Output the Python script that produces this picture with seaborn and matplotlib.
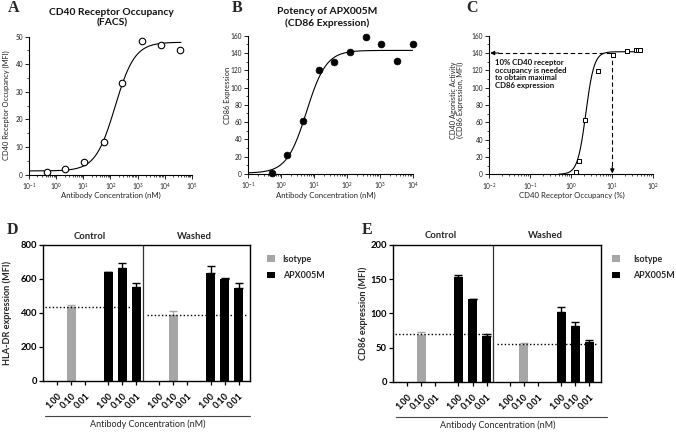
import numpy as np
import pandas as pd
import matplotlib
matplotlib.use("Agg")
import matplotlib.pyplot as plt
import matplotlib.transforms as mtransforms
from matplotlib.patches import Patch
from matplotlib.ticker import FixedLocator, MultipleLocator, LogFormatterMathtext, NullFormatter
import seaborn as sns

# ---------------- data ----------------
# Panel A: CD40 receptor occupancy (FACS)
a_conc_nM = [0.44, 2.1, 10.8, 57, 275, 1400, 7400, 37000]
a_occupancy_mfi = [0.9, 1.9, 4.4, 11.8, 33.3, 48.3, 47.0, 45.2]
a_fit = dict(bottom=1.3, top=48.0, log_ec50=2.17, hill=1.2)

# Panel B: potency of APX005M (CD86 expression)
b_conc_nM = [0.51, 1.52, 4.57, 13.7, 41.2, 123, 370, 1111, 3333, 10000]
b_cd86 = [1.5, 22.4, 61.3, 120, 130, 141.5, 158.8, 150, 130.7, 150]
b_fit = dict(bottom=1.0, top=143.0, log_ec50=0.77, hill=1.45)

# Panel C: CD40 agonistic activity vs receptor occupancy
c_occupancy_pct = [1.30, 1.51, 2.15, 4.39, 10.6, 23.2, 37.8, 42.3, 47.3]
c_cd86 = [2.7, 15.3, 63, 119, 138, 142.5, 143, 143, 143]
c_fit = dict(bottom=0.0, top=141.5, log_ec50=0.355, hill=4.3)
c_threshold_pct = 10
c_max_cd86 = 140
c_note = "10% CD40 receptor\noccupancy is needed\nto obtain maximal\nCD86 expression"

# Panels D/E: bar charts
conditions = ["Control", "Washed"]
treatments = ["Isotype", "APX005M"]
dose_labels = ["1.00", "0.10", "0.01"]
isotype_dose = "0.10"

hla_isotype_mean = [438, 388]
hla_isotype_err = [8, 26]
hla_apx_mean = [[641, 665, 555], [637, 602, 545]]
hla_apx_err = [[3, 27, 20], [39, 4, 33]]
hla_baseline = [437, 390]

cd86_isotype_mean = [68.3, 54]
cd86_isotype_err = [5, 3]
cd86_apx_mean = [[153, 121, 66.8], [102.4, 81.5, 57.6]]
cd86_apx_err = [[2.5, 0.6, 3], [6.5, 5.3, 3]]
cd86_baseline = [69.8, 55.6]

# ---------------- style ----------------
sns.set_theme(style="ticks")
plt.rcParams["font.family"] = ["Lato", "DejaVu Sans"]
plt.rcParams["mathtext.fontset"] = "custom"
plt.rcParams["mathtext.rm"] = "Lato"
plt.rcParams["mathtext.it"] = "Lato:italic"
plt.rcParams["mathtext.bf"] = "Lato:bold"

W, H = 676, 432
fig = plt.figure(figsize=(W / 100, H / 100), dpi=100)
fig.patch.set_facecolor("white")


def rect(l, t, r, b):
    return [l / W, 1 - b / H, (r - l) / W, (b - t) / H]


def four_pl(x, p):
    x = np.asarray(x, dtype=float)
    return p["bottom"] + (p["top"] - p["bottom"]) / (1 + 10 ** ((p["log_ec50"] - np.log10(x)) * p["hill"]))


TXT = "#222222"


def style_curve_axes(ax, decades, ylim, ymajor):
    lo, hi = decades
    ax.set_xscale("log")
    ax.set_xlim(10.0 ** lo, 10.0 ** hi)
    ax.set_ylim(*ylim)
    sns.despine(ax=ax)
    for s in ("left", "bottom"):
        ax.spines[s].set_linewidth(0.8)
        ax.spines[s].set_color("black")
    majors = [10.0 ** k for k in range(lo, hi + 1)]
    minors = [m * 10.0 ** k for k in range(lo, hi) for m in range(2, 10)]
    ax.xaxis.set_major_locator(FixedLocator(majors))
    ax.xaxis.set_minor_locator(FixedLocator(minors))
    ax.xaxis.set_major_formatter(LogFormatterMathtext())
    ax.xaxis.set_minor_formatter(NullFormatter())
    ax.yaxis.set_major_locator(MultipleLocator(ymajor))
    ax.yaxis.set_minor_locator(MultipleLocator(ymajor / 2))
    ax.tick_params(axis="both", which="major", direction="out", length=3, width=0.6,
                   labelsize=4.7, pad=1.5, colors="black", labelcolor=TXT)
    ax.tick_params(axis="both", which="minor", direction="out", length=1.6, width=0.5, colors="black")
    ax.set_facecolor("white")


# ---------------- Panel A ----------------
axA = fig.add_axes(rect(29.3, 36.7, 191.7, 174.5))
xa = np.logspace(-1, np.log10(40000), 300)
sns.lineplot(x=xa, y=four_pl(xa, a_fit), ax=axA, color="black", lw=0.8)
sns.scatterplot(x=a_conc_nM, y=a_occupancy_mfi, ax=axA, marker="o", s=22,
                color="white", edgecolor="black", linewidth=0.8, clip_on=False, zorder=3)
style_curve_axes(axA, (-1, 5), (0, 50), 10)
axA.set_xlabel("Antibody Concentration (nM)", fontsize=5.6, color=TXT)
axA.set_ylabel("CD40 Receptor Occupancy (MFI)", fontsize=5.4, color=TXT)
axA.xaxis.set_label_coords(0.503, -0.127)
axA.yaxis.set_label_coords(-0.12, 0.5)
fig.text(111.7 / W, 1 - 17.5 / H, "CD40 Receptor Occupancy\n(FACS)", ha="center", va="center",
         fontsize=7.4, fontweight="bold", linespacing=1.2, color="#111111")

# ---------------- Panel B ----------------
axB = fig.add_axes(rect(248.3, 35.7, 412.7, 174.0))
xb = np.logspace(-1, 4, 300)
sns.lineplot(x=xb, y=four_pl(xb, b_fit), ax=axB, color="black", lw=0.8)
sns.scatterplot(x=b_conc_nM, y=b_cd86, ax=axB, marker="o", s=24,
                color="black", edgecolor="black", linewidth=0.5, clip_on=False, zorder=3)
style_curve_axes(axB, (-1, 4), (0, 160), 20)
axB.set_xlabel("Antibody Concentration (nM)", fontsize=5.6, color=TXT)
axB.set_ylabel("CD86 Expression", fontsize=5.4, color=TXT)
axB.xaxis.set_label_coords(0.47, -0.127)
axB.yaxis.set_label_coords(-0.108, 0.565)
fig.text(326.7 / W, 1 - 17.5 / H, "Potency of APX005M\n(CD86 Expression)", ha="center", va="center",
         fontsize=7.4, fontweight="bold", linespacing=1.2, color="#111111")

# ---------------- Panel C ----------------
axC = fig.add_axes(rect(489.3, 35.7, 653.3, 174.3))
xc = np.logspace(np.log10(0.5), np.log10(50), 300)
sns.lineplot(x=xc, y=four_pl(xc, c_fit), ax=axC, color="black", lw=0.8)
sns.scatterplot(x=c_occupancy_pct, y=c_cd86, ax=axC, marker="s", s=12,
                color="white", edgecolor="black", linewidth=0.7, clip_on=False, zorder=3)
style_curve_axes(axC, (-2, 2), (0, 160), 20)
axC.set_xlabel("CD40 Receptor Occupancy (%)", fontsize=5.6, color=TXT)
axC.set_ylabel("CD40 Agonistic Activity\n(CD86 Expression, MFI)", fontsize=5.3, color=TXT, linespacing=1.0)
axC.xaxis.set_label_coords(0.504, -0.125)
axC.yaxis.set_label_coords(-0.154, 0.536)
xmin_c = axC.get_xlim()[0]
axC.plot([xmin_c * 1.6, c_threshold_pct], [c_max_cd86, c_max_cd86], color="black", lw=0.8,
         dashes=(4, 2.5), zorder=2)
axC.plot([c_threshold_pct, c_threshold_pct], [c_max_cd86, 6], color="black", lw=0.8,
         dashes=(4, 2.5), zorder=2)
axC.annotate("", xy=(xmin_c * 1.05, c_max_cd86), xytext=(xmin_c * 1.7, c_max_cd86),
             arrowprops=dict(arrowstyle="-|>", color="black", lw=0.8, mutation_scale=6,
                             shrinkA=0, shrinkB=0))
axC.annotate("", xy=(c_threshold_pct, 1), xytext=(c_threshold_pct, 9),
             arrowprops=dict(arrowstyle="-|>", color="black", lw=0.8, mutation_scale=6,
                             shrinkA=0, shrinkB=0))
axC.text(0.0138, 133, c_note, ha="left", va="top", fontsize=5.6, fontweight="bold",
         linespacing=1.1, color="#111111")


# ---------------- Panels D & E ----------------
SLOT_GAP = 1.65
BAR_COLORS = {"Isotype": "#a6a6a6", "APX005M": "#000000"}


def slot_pos(group_idx, dose_idx):
    return group_idx * (2 + SLOT_GAP) + dose_idx


def build_frame(iso_mean, iso_err, apx_mean, apx_err):
    rows = []
    for ci, cond in enumerate(conditions):
        di = dose_labels.index(isotype_dose)
        rows.append(dict(pos=slot_pos(2 * ci, di), value=iso_mean[ci], err=iso_err[ci],
                         treatment="Isotype", condition=cond))
        for di, _ in enumerate(dose_labels):
            rows.append(dict(pos=slot_pos(2 * ci + 1, di), value=apx_mean[ci][di], err=apx_err[ci][di],
                             treatment="APX005M", condition=cond))
    return pd.DataFrame(rows)


def bar_panel(box, iso_mean, iso_err, apx_mean, apx_err, baseline, ymax, ystep, ylabel,
              leg_x, leg_pad, line_span, label_x, title_x):
    ax = fig.add_axes(rect(*box))
    df = build_frame(iso_mean, iso_err, apx_mean, apx_err)
    sns.barplot(data=df, x="pos", y="value", hue="treatment", palette=BAR_COLORS,
                native_scale=True, dodge=False, width=0.65, errorbar=None, legend=False,
                saturation=1, linewidth=0, ax=ax, zorder=2)
    for tr, sub in df.groupby("treatment"):
        ax.errorbar(sub["pos"], sub["value"], yerr=[np.zeros(len(sub)), sub["err"]], fmt="none",
                    ecolor=BAR_COLORS[tr], elinewidth=1.0, capsize=3.2, capthick=1.0, zorder=3)
    xlim = (-0.98, slot_pos(3, 2) + 0.81)
    divider = 6.12
    ax.set_xlim(*xlim)
    ax.set_ylim(0, ymax)
    ax.axvline(divider, color="#333333", lw=0.9, zorder=1)
    # isotype baselines
    spans = [(xlim[0] + 0.1, slot_pos(1, 2) + 0.2), (divider + 0.28, xlim[1] - 0.2)]
    for (x0, x1), b in zip(spans, baseline):
        ax.plot([x0, x1], [b, b], color="black", lw=1.0, ls=(0, (1, 1.6)), zorder=4)
    ticks = [slot_pos(g, d) for g in range(4) for d in range(3)]
    ax.set_xticks(ticks)
    ax.set_xticklabels(dose_labels * 4, rotation=45, ha="right", va="top",
                       rotation_mode="anchor", fontsize=6.5, fontweight="bold")
    ax.set_yticks(np.arange(0, ymax + 1, ystep))
    ax.set_yticklabels([f"{int(v)}" for v in np.arange(0, ymax + 1, ystep)], fontsize=6.8,
                       fontweight="bold")
    ax.tick_params(axis="x", direction="out", length=3, width=0.9, pad=4.5, colors="black")
    ax.tick_params(axis="y", direction="out", length=3, width=0.9, pad=1.5, colors="black")
    for s in ax.spines.values():
        s.set_visible(True)
        s.set_linewidth(1.0)
        s.set_color("black")
    ax.set_xlabel("")
    ax.set_ylabel(ylabel, fontsize=6.6, fontweight="bold")
    ax.yaxis.set_label_coords(label_x, 0.5)
    trans = mtransforms.blended_transform_factory(ax.transData, ax.transAxes)
    for cond, tx in zip(conditions, title_x):
        ax.text(tx, 1.066, cond, transform=trans, ha="center", va="center",
                fontsize=6.8, fontweight="bold")
    handles = [Patch(facecolor=BAR_COLORS[t], edgecolor="none") for t in treatments]
    ax.legend(handles, treatments, loc="upper left", bbox_to_anchor=(leg_x, 0.93), frameon=False,
              prop=dict(size=6.4, weight="bold"), handlelength=0.95, handleheight=0.7,
              handletextpad=leg_pad, labelspacing=0.85, borderaxespad=0, borderpad=0)
    ax.plot(line_span, [-0.26, -0.26], transform=ax.transAxes, color="#444444", lw=0.8, clip_on=False)
    ax.text(0.506, -0.315, "Antibody Concentration (nM)", transform=ax.transAxes, ha="center",
            va="center", fontsize=6.5)
    return ax


axD = bar_panel((43.3, 245, 250, 381), hla_isotype_mean, hla_isotype_err, hla_apx_mean, hla_apx_err,
                hla_baseline, 800, 200, "HLA-DR expression (MFI)", 1.081, 0.85, [0.008, 1.0], -0.152,
                (2.35, 9.8))
axE = bar_panel((393.3, 245, 600.7, 381.7), cd86_isotype_mean, cd86_isotype_err, cd86_apx_mean,
                cd86_apx_err, cd86_baseline, 200, 50, "CD86 expression (MFI)", 1.054, 1.4, [0.013, 1.03],
                -0.124, (2.4, 9.8))

# panel letters
for letter, (px, py) in zip("ABCDE", [(13.3, 8.3), (236.7, 7.5), (471.7, 7.5), (12, 230), (367, 230)]):
    fig.text(px / W, 1 - py / H, letter, ha="center", va="center", fontsize=11.5,
             fontweight="bold", family=["Liberation Serif", "DejaVu Serif"])

fig.savefig("out.png", dpi=100, facecolor="white")
